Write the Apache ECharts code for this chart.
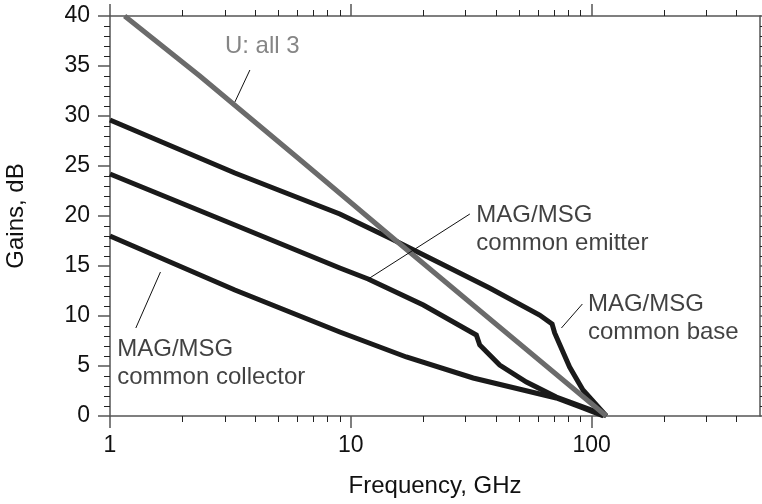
<!DOCTYPE html>
<html>
<head>
<meta charset="utf-8">
<script src="https://cdn.jsdelivr.net/npm/echarts@6/dist/echarts.min.js"></script>
<style>
  html, body { margin: 0; padding: 0; background: #fff; }
  #chart { width: 762px; height: 504px; }
</style>
</head>
<body>
<div id="chart"></div>
<script>
// 频率 (GHz) / 增益 (dB)
const uFreq = [1.15, 2.36, 6.1, 16, 40, 115]
const uGain = [40, 34.0, 25.7, 17.2, 9.2, 0]

const cbFreq = [1, 3.3, 9.0, 14.5, 23.4, 37.7, 60.8, 68.5, 70.2, 81, 92, 115]
const cbGain = [29.6, 24.3, 20.2, 17.8, 15.3, 12.8, 10.1, 9.2, 8.3, 4.9, 2.6, 0]

const ceFreq = [1, 3.3, 9.0, 11.8, 20, 33.2, 34.3, 41.5, 53.6, 71.3, 108, 115]
const ceGain = [24.2, 19.1, 14.8, 13.7, 11.1, 8.1, 7.1, 5.1, 3.4, 1.9, 0.3, 0]

const ccFreq = [1, 3.3, 9.0, 17, 32.2, 51.9, 71.3, 92, 112]
const ccGain = [18.0, 12.6, 8.4, 5.9, 3.8, 2.6, 1.8, 0.8, 0]

// 坐标轴刻度
const xMajorTicks = [1, 10, 100]
const xMinorTicks = [2, 3, 4, 5, 6, 7, 8, 9, 20, 30, 40, 50, 60, 70, 80, 90, 200, 300, 400]

// 注释文字与引线（数据坐标）
const notes = [
  { text: 'U: all 3', at: [3.0, 38.4], color: '#666' },
  { text: 'MAG/MSG\ncommon emitter', at: [33.2, 21.5], color: '#111' },
  { text: 'MAG/MSG\ncommon base', at: [96.5, 12.6], color: '#111' },
  { text: 'MAG/MSG\ncommon collector', at: [1.072, 8.1], color: '#111' },
]
const leaders = [
  [[3.81, 34.6], [3.30, 31.4]],
  [[31.2, 20.2], [11.8, 13.7]],
  [[91.5, 11.2], [74.9, 8.8]],
  [[1.62, 14.4], [1.28, 8.8]],
]

const FONT = 'Liberation Sans, Arial, sans-serif'
const AXIS_COLOR = '#555'

const zip = (xs, ys) => xs.map((x, i) => [x, ys[i]])

function curve(name, xs, ys, color) {
  return {
    name, type: 'line', xAxisIndex: 0, yAxisIndex: 0,
    data: zip(xs, ys), symbol: 'none', smooth: false, silent: true,
    lineStyle: { width: 5, color, join: 'miter' },
  }
}

const series = [
  curve('common base', cbFreq, cbGain, '#1a1a1a'),
  curve('common emitter', ceFreq, ceGain, '#1a1a1a'),
  curve('common collector', ccFreq, ccGain, '#1a1a1a'),
  curve('U', uFreq, uGain, '#6b6b6b'),
]

leaders.forEach((seg, i) => {
  series.push({
    name: 'leader' + i, type: 'line', xAxisIndex: 0, yAxisIndex: 0,
    data: seg, symbol: 'none', silent: true,
    lineStyle: { width: 1, color: '#111' },
  })
})

series.push({
  name: 'notes', type: 'scatter', xAxisIndex: 0, yAxisIndex: 0,
  symbolSize: 0, silent: true,
  data: notes.map(n => ({
    value: n.at,
    label: {
      show: true, formatter: n.text, position: [0, 0],
      align: 'left', verticalAlign: 'top',
      fontFamily: FONT, fontSize: 24, lineHeight: 28, color: n.color,
      textBorderWidth: 0,
    },
  })),
})

const baseX = {
  type: 'log', logBase: 10, min: 1, max: 500, gridIndex: 0,
  splitLine: { show: false },
}

const option = {
  backgroundColor: '#fff',
  animation: false,
  grid: { left: 110, right: 2, top: 16, bottom: 88, outerBoundsMode: 'none', containLabel: false },
  xAxis: [
    {
      ...baseX, position: 'bottom',
      name: 'Frequency, GHz', nameLocation: 'middle', nameGap: 58,
      nameTextStyle: { fontFamily: FONT, fontSize: 24, color: '#111' },
      axisLine: { show: true, lineStyle: { color: AXIS_COLOR, width: 1.5 } },
      axisTick: { show: true, length: 12, customValues: xMajorTicks, lineStyle: { color: AXIS_COLOR, width: 1.5 } },
      axisLabel: { show: true, customValues: xMajorTicks, margin: 18, fontFamily: FONT, fontSize: 23, color: '#111' },
    },
    {
      ...baseX, position: 'bottom',
      axisLine: { show: false },
      axisTick: { show: true, length: 6, customValues: xMinorTicks, lineStyle: { color: '#222', width: 1 } },
      axisLabel: { show: false },
    },
    {
      ...baseX, position: 'top',
      axisLine: { show: true, lineStyle: { color: AXIS_COLOR, width: 1.5 } },
      axisTick: { show: true, length: 12, customValues: xMajorTicks, lineStyle: { color: AXIS_COLOR, width: 1.5 } },
      axisLabel: { show: false },
    },
    {
      ...baseX, position: 'top',
      axisLine: { show: false },
      axisTick: { show: true, length: 6, customValues: xMinorTicks, lineStyle: { color: '#222', width: 1 } },
      axisLabel: { show: false },
    },
  ],
  yAxis: [
    {
      type: 'value', min: 0, max: 40, interval: 5, position: 'left',
      name: 'Gains, dB', nameLocation: 'middle', nameGap: 82, nameRotate: 90,
      nameTextStyle: { fontFamily: FONT, fontSize: 24, color: '#111' },
      axisLine: { show: true, lineStyle: { color: AXIS_COLOR, width: 1.5 } },
      axisTick: { show: true, length: 12, lineStyle: { color: AXIS_COLOR, width: 1.5 } },
      minorTick: { show: true, splitNumber: 5, length: 6, lineStyle: { color: '#222', width: 1 } },
      axisLabel: { margin: 20, fontFamily: FONT, fontSize: 23, color: '#111' },
      splitLine: { show: false },
    },
    {
      type: 'value', min: 0, max: 40, interval: 5, position: 'right',
      axisLine: { show: true, lineStyle: { color: AXIS_COLOR, width: 1.5 } },
      axisTick: { show: true, length: 12, lineStyle: { color: AXIS_COLOR, width: 1.5 } },
      minorTick: { show: true, splitNumber: 5, length: 6, lineStyle: { color: '#222', width: 1 } },
      axisLabel: { show: false },
      splitLine: { show: false },
    },
  ],
  series,
}

const chart = echarts.init(document.getElementById('chart'), null, { renderer: 'canvas' })
chart.setOption(option)
</script>
</body>
</html>
